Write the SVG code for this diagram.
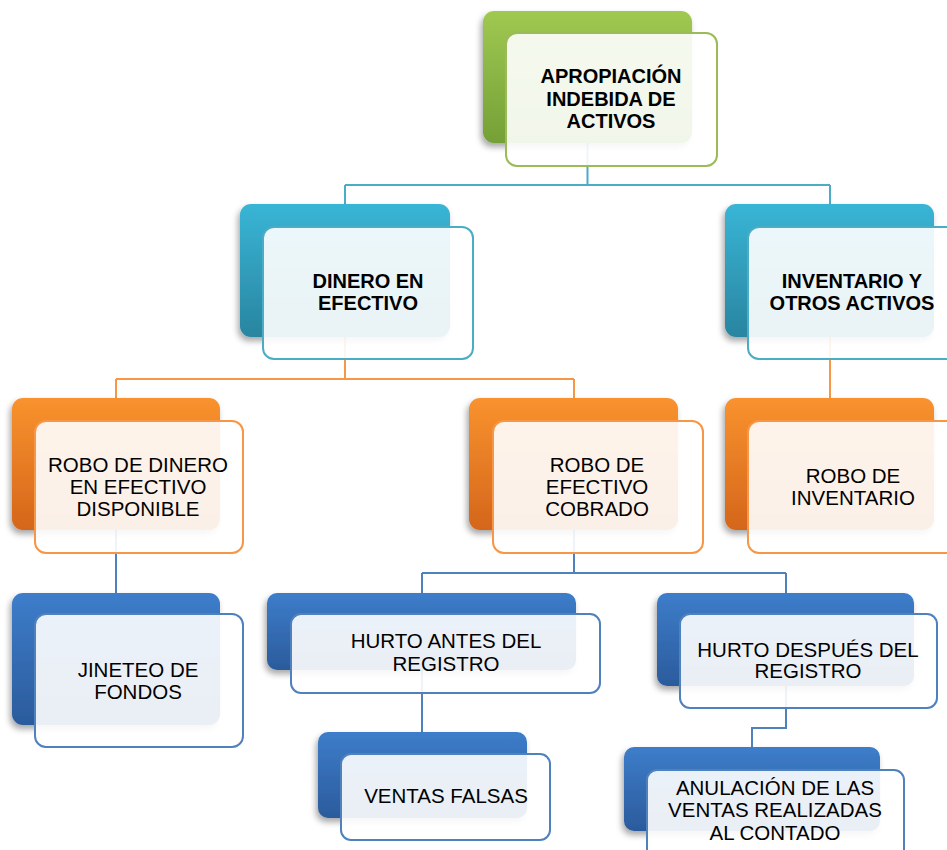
<svg xmlns="http://www.w3.org/2000/svg" width="947" height="850" viewBox="0 0 947 850">
<defs>
<linearGradient id="gGreen" x1="0" y1="0" x2="0" y2="1"><stop offset="0" stop-color="#a0c951"/><stop offset="1" stop-color="#74a037"/></linearGradient>
<linearGradient id="gTeal" x1="0" y1="0" x2="0" y2="1"><stop offset="0" stop-color="#39b5d6"/><stop offset="1" stop-color="#2985a0"/></linearGradient>
<linearGradient id="gOrange" x1="0" y1="0" x2="0" y2="1"><stop offset="0" stop-color="#f9922e"/><stop offset="1" stop-color="#d4661b"/></linearGradient>
<linearGradient id="gBlue" x1="0" y1="0" x2="0" y2="1"><stop offset="0" stop-color="#3d7dca"/><stop offset="1" stop-color="#2b5b9c"/></linearGradient>
<filter id="sh" x="-10%" y="-10%" width="125%" height="130%"><feDropShadow dx="-2" dy="4" stdDeviation="3" flood-color="#000" flood-opacity="0.35"/></filter>
</defs>
<style>
.back{filter:url(#sh);}
.front{fill:#ffffff;fill-opacity:0.9;stroke-width:2;}
.fg{stroke:#9bbb59}.ft{stroke:#4bacc6}.fo{stroke:#f79646}.fb{stroke:#4f81bd}
.t{font-family:"Liberation Sans",Arial,sans-serif;font-size:20.5px;fill:#000;text-anchor:middle;}
.b{font-weight:bold;font-size:20px;}
.c{fill:none;stroke-width:2;}
.ct{stroke:#4bacc6}.co{stroke:#f79646}.cb{stroke:#4f81bd}
</style>
<g id="connectors">
<path class="c ct" d="M587.5,143 V185 M345,185 H830 M345,185 V204 M830,185 V204"/>
<path class="c co" d="M345,337 V379 M116,379 H574 M116,379 V398 M574,379 V398"/>
<path class="c co" d="M830,337 V398"/>
<path class="c cb" d="M116,530 V593"/>
<path class="c cb" d="M574,530 V573 M422,573 H786 M422,573 V593 M786,573 V593"/>
<path class="c cb" d="M422,670 V732"/>
<path class="c cb" d="M786,686 V728 H752 V747"/>
</g>
<g id="n-apropiacion">
<rect class="back" x="483" y="11" width="209" height="132" rx="11" fill="url(#gGreen)"/>
<rect class="front fg" x="506" y="33" width="211" height="133" rx="11"/>
<text class="t b"><tspan x="611" y="83">APROPIACIÓN</tspan><tspan x="611" y="106">INDEBIDA DE</tspan><tspan x="611" y="128">ACTIVOS</tspan></text>
</g>
<g id="n-dinero">
<rect class="back" x="240" y="204" width="210" height="133" rx="11" fill="url(#gTeal)"/>
<rect class="front ft" x="263" y="227" width="210" height="132" rx="11"/>
<text class="t b"><tspan x="368" y="288">DINERO EN</tspan><tspan x="368" y="310">EFECTIVO</tspan></text>
</g>
<g id="n-inventario">
<rect class="back" x="725" y="204" width="209" height="133" rx="11" fill="url(#gTeal)"/>
<rect class="front ft" x="748" y="227" width="215" height="132" rx="11"/>
<text class="t b"><tspan x="852" y="288">INVENTARIO Y</tspan><tspan x="852" y="310">OTROS ACTIVOS</tspan></text>
</g>
<g id="n-robo-dinero">
<rect class="back" x="12" y="398" width="208" height="132" rx="11" fill="url(#gOrange)"/>
<rect class="front fo" x="35" y="421" width="208" height="132" rx="11"/>
<text class="t"><tspan x="138" y="472">ROBO DE DINERO</tspan><tspan x="138" y="494">EN EFECTIVO</tspan><tspan x="138" y="516">DISPONIBLE</tspan></text>
</g>
<g id="n-robo-efectivo">
<rect class="back" x="469" y="398" width="209" height="132" rx="11" fill="url(#gOrange)"/>
<rect class="front fo" x="493" y="421" width="210" height="132" rx="11"/>
<text class="t"><tspan x="597" y="472">ROBO DE</tspan><tspan x="597" y="494">EFECTIVO</tspan><tspan x="597" y="516">COBRADO</tspan></text>
</g>
<g id="n-robo-inventario">
<rect class="back" x="725" y="398" width="209" height="132" rx="11" fill="url(#gOrange)"/>
<rect class="front fo" x="748" y="421" width="215" height="132" rx="11"/>
<text class="t"><tspan x="853" y="483">ROBO DE</tspan><tspan x="853" y="505">INVENTARIO</tspan></text>
</g>
<g id="n-jineteo">
<rect class="back" x="12" y="593" width="208" height="132" rx="11" fill="url(#gBlue)"/>
<rect class="front fb" x="35" y="614" width="208" height="133" rx="11"/>
<text class="t"><tspan x="138" y="677">JINETEO DE</tspan><tspan x="138" y="699">FONDOS</tspan></text>
</g>
<g id="n-hurto-antes">
<rect class="back" x="267" y="593" width="309" height="77" rx="10" fill="url(#gBlue)"/>
<rect class="front fb" x="291" y="614" width="309" height="79" rx="10"/>
<text class="t"><tspan x="446" y="648">HURTO ANTES DEL</tspan><tspan x="446" y="671">REGISTRO</tspan></text>
</g>
<g id="n-ventas-falsas">
<rect class="back" x="318" y="732" width="209" height="86" rx="10" fill="url(#gBlue)"/>
<rect class="front fb" x="341" y="754" width="209" height="86" rx="10"/>
<text class="t"><tspan x="446" y="803">VENTAS FALSAS</tspan></text>
</g>
<g id="n-hurto-despues">
<rect class="back" x="657" y="593" width="257" height="93" rx="10" fill="url(#gBlue)"/>
<rect class="front fb" x="680" y="614" width="257" height="94" rx="10"/>
<text class="t"><tspan x="808" y="657">HURTO DESPUÉS DEL</tspan><tspan x="808" y="678">REGISTRO</tspan></text>
</g>
<g id="n-anulacion">
<rect class="back" x="624" y="747" width="256" height="84" rx="10" fill="url(#gBlue)"/>
<rect class="front fb" x="647" y="770" width="257" height="95" rx="10"/>
<text class="t"><tspan x="775" y="795">ANULACIÓN DE LAS</tspan><tspan x="775" y="817">VENTAS REALIZADAS</tspan><tspan x="775" y="840">AL CONTADO</tspan></text>
</g>
</svg>
